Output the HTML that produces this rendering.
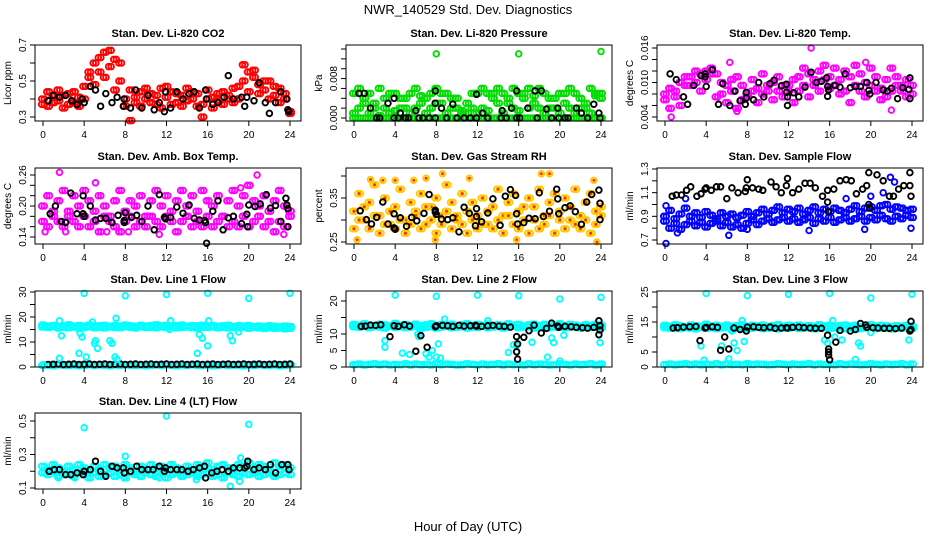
<!DOCTYPE html>
<html><head><meta charset="utf-8"><style>
html,body{margin:0;padding:0;background:#fff}
svg{display:block}
text{font-family:"Liberation Sans",sans-serif}
</style></head><body>
<svg id="chart" width="936" height="540" viewBox="0 0 936 540" xmlns="http://www.w3.org/2000/svg">
<text x="468" y="14" font-size="13" text-anchor="middle">NWR_140529  Std. Dev. Diagnostics</text>
<text x="468" y="531" font-size="13" text-anchor="middle">Hour of Day (UTC)</text>
</svg>
<script>
// ---- data (half-hour grid arrays: index i -> hour i/2) ----
const co2A=[0.40,0.44,0.38,0.45,0.42,0.37,0.44,0.41,0.47,0.52,0.60,0.55,0.66,0.58,0.62,0.50,0.40,0.45,0.38,0.44,0.40,0.43,0.37,0.46,0.41,0.44,0.38,0.42,0.46,0.40,0.43,0.37,0.45,0.41,0.39,0.44,0.42,0.46,0.40,0.50,0.55,0.52,0.48,0.45,0.50,0.42,0.46,0.40,0.33];
const co2B=[0.37,0.36,0.42,0.39,0.35,0.43,0.38,0.36,0.40,0.55,0.48,0.63,0.52,0.67,0.45,0.60,0.36,0.28,0.41,0.36,0.46,0.38,0.42,0.35,0.47,0.37,0.43,0.36,0.39,0.44,0.36,0.30,0.40,0.35,0.43,0.37,0.40,0.38,0.47,0.59,0.44,0.56,0.43,0.50,0.40,0.47,0.38,0.43,0.32];
const co2BlkH=[0.5,1,1.6,2.2,2.8,3.3,3.8,4,4.6,5.1,5.6,6.1,6.7,7.2,7.8,7.9,8.5,9,9.6,10.2,10.8,11.3,11.8,11.9,12.4,13,13.6,14.2,14.7,15.2,15.8,15.9,16.5,17,17.6,18,18.5,19.3,19.6,19.8,20.5,21,21.6,22,22.6,23.1,23.7,23.8,23.9];
const co2BlkV=[0.39,0.42,0.41,0.42,0.39,0.37,0.40,0.38,0.47,0.45,0.36,0.43,0.38,0.41,0.36,0.40,0.35,0.45,0.35,0.42,0.34,0.38,0.33,0.44,0.35,0.44,0.40,0.43,0.44,0.35,0.45,0.40,0.37,0.38,0.41,0.53,0.40,0.41,0.36,0.41,0.39,0.49,0.38,0.32,0.38,0.44,0.40,0.34,0.33];

const prA=[0.005,0.006,0.004,0.005,0.003,0.006,0.002,0.001,0.005,0.004,0.002,0.005,0.006,0.003,0.004,0.005,0.006,0.003,0.005,0.004,0.002,0.001,0.003,0.002,0.005,0.006,0.005,0.004,0.006,0.005,0.003,0.006,0.005,0.004,0.006,0.003,0.006,0.005,0.002,0.004,0.005,0.003,0.006,0.005,0.002,0.003,0.006,0.005,0.004];
const prB=[0.001,0.002,0.003,0.001,0.002,0.0005,0.004,0.005,0.0015,0.002,0.004,0.001,0.002,0.0045,0.001,0.002,0.003,0.005,0.001,0.002,0.004,0.0015,0.001,0.005,0.001,0.002,0.0015,0.005,0.003,0.001,0.004,0.002,0.0015,0.005,0.002,0.0045,0.002,0.001,0.004,0.002,0.001,0.005,0.002,0.001,0.004,0.002,0.001,0.0045,0.005];
const prZero=[0,0,0,0,0,0,0,0,0,0,0,0,0,0,0,0,0,0,0,0,0,0,0,0,0,0,0,0,0,0,0,0,0,0,0,0,0,0,0,0,0,0,0,0,0,0,0,0,0];
const prOutH=[8,16,24];
const prOutV=[0.013,0.013,0.0135];
const prBlkH=[2.2,2.5,3.9,4.3,5,5.3,6.3,6.7,7.3,7.9,9,10,10.7,11.3,11.9,13,14.3,14.8,15.8,16.1,17.8,19.2,19.9,20.5,20.8,22.7,23.9,0.5,1,1.6,3.3,3.9,4.5,6,7.9,7.9,8.5,9.6,11.9,12.5,14.4,15.3,15.8,16.9,17.6,18.2,18.7,19.8,21.6,22.1,23.3,23.8];
const prBlkV=[0,0,0,0,0,0,0,0,0,0,0,0,0,0,0,0,0,0,0,0,0,0,0,0,0,0,0,0.005,0.005,0.002,0.003,0.004,0.001,0.0015,0.0055,0.003,0.002,0.0028,0.0048,0.001,0.0015,0.002,0.0055,0.002,0.0055,0.0055,0.0018,0.002,0.002,0.001,0.0028,0.001];

const ltA=[0.008,0.009,0.0075,0.010,0.011,0.0095,0.012,0.0115,0.012,0.0125,0.0115,0.010,0.0095,0.0105,0.011,0.0095,0.008,0.0105,0.009,0.0115,0.0085,0.010,0.011,0.0095,0.0085,0.0105,0.011,0.0125,0.0115,0.0105,0.012,0.013,0.011,0.0125,0.0105,0.012,0.011,0.013,0.0115,0.010,0.0125,0.011,0.009,0.0105,0.0125,0.011,0.0095,0.0105,0.0095];
const ltB=[0.007,0.0055,0.0085,0.006,0.0095,0.011,0.010,0.0085,0.0105,0.0115,0.0075,0.008,0.0065,0.0085,0.0055,0.007,0.0075,0.0085,0.0065,0.008,0.0095,0.007,0.0085,0.0075,0.0095,0.0065,0.0085,0.0095,0.0075,0.0095,0.0085,0.0105,0.009,0.0095,0.008,0.0085,0.0065,0.0095,0.0085,0.0075,0.0095,0.0085,0.007,0.0075,0.0085,0.0095,0.0085,0.0075,0.008];
const ltOutH=[0.6,6.3,7,14.2,22,19.5];
const ltOutV=[0.004,0.0135,0.005,0.016,0.0052,0.0135];
const ltBlkH=[0.5,1.1,1.8,2.2,2.8,3.5,3.9,3.9,4.0,4.6,5.2,5.6,6.3,6.8,7.3,7.8,7.9,7.9,8.6,9.1,9.6,10.2,10.6,11.3,11.8,11.8,11.9,11.9,12.5,13,13.6,14.2,14.7,15.2,15.7,15.8,15.9,15.8,16.5,17,17.5,18,18.5,19,19.6,19.8,19.9,20.5,21.2,21.6,22,22.6,23.1,23.7,23.8,23.8];
const ltBlkV=[0.0115,0.0105,0.0075,0.0062,0.0095,0.0112,0.0115,0.011,0.0093,0.0122,0.0062,0.0098,0.0060,0.0085,0.0068,0.0062,0.0083,0.0073,0.0070,0.0100,0.0075,0.0098,0.0104,0.0094,0.0097,0.0083,0.0075,0.0060,0.0082,0.0075,0.0092,0.0118,0.0100,0.0102,0.0108,0.0093,0.0087,0.0076,0.0095,0.0092,0.0115,0.0091,0.0093,0.0093,0.0100,0.0086,0.0080,0.0100,0.0087,0.0085,0.0090,0.0072,0.0091,0.0088,0.0108,0.0072];

const abA=[0.20,0.22,0.18,0.21,0.23,0.19,0.22,0.20,0.23,0.21,0.19,0.22,0.20,0.18,0.21,0.23,0.19,0.21,0.20,0.22,0.18,0.21,0.23,0.20,0.22,0.19,0.21,0.23,0.20,0.22,0.19,0.23,0.21,0.20,0.22,0.18,0.21,0.23,0.20,0.22,0.24,0.21,0.20,0.22,0.19,0.21,0.23,0.20,0.19];
const abB=[0.17,0.16,0.19,0.17,0.16,0.18,0.17,0.16,0.18,0.16,0.17,0.15,0.18,0.17,0.16,0.15,0.17,0.18,0.16,0.17,0.16,0.18,0.17,0.16,0.18,0.17,0.15,0.17,0.18,0.16,0.17,0.16,0.18,0.16,0.17,0.18,0.16,0.17,0.16,0.18,0.16,0.17,0.18,0.16,0.17,0.15,0.17,0.16,0.18];
const abOutH=[0.2,1.6,2.2,5.1,6.2,8.3,11.3,19.2,20.8,23.4];
const abOutV=[0.15,0.265,0.15,0.245,0.15,0.15,0.145,0.235,0.26,0.145];
const abBlkH=[0.7,1.2,1.8,2.2,2.7,3.3,3.9,3.9,4.0,4.6,5.1,5.6,6.1,6.7,7.3,7.9,7.9,8.0,8.6,9.1,9.6,10.2,10.8,11.3,11.8,11.9,12.4,13,13.6,14.2,14.7,15.2,15.7,15.8,15.9,16.5,17,17.5,18,18.5,19.3,19.8,19.9,20.0,20.6,21.1,21.7,22.1,22.6,23.1,23.6,23.7,23.8,23.8];
const abBlkV=[0.185,0.20,0.17,0.168,0.225,0.185,0.22,0.185,0.18,0.20,0.173,0.176,0.176,0.168,0.182,0.168,0.172,0.187,0.178,0.182,0.17,0.20,0.154,0.222,0.178,0.175,0.178,0.198,0.186,0.202,0.176,0.173,0.172,0.168,0.128,0.190,0.210,0.154,0.177,0.180,0.166,0.184,0.160,0.202,0.199,0.204,0.222,0.196,0.201,0.170,0.215,0.202,0.195,0.160];

const rhA=[0.32,0.36,0.30,0.34,0.38,0.31,0.35,0.29,0.33,0.37,0.30,0.34,0.32,0.36,0.29,0.33,0.35,0.31,0.38,0.34,0.30,0.36,0.32,0.34,0.31,0.35,0.29,0.33,0.37,0.31,0.34,0.36,0.32,0.30,0.35,0.33,0.37,0.31,0.34,0.36,0.32,0.35,0.33,0.37,0.31,0.34,0.36,0.32,0.33];
const rhB=[0.28,0.30,0.33,0.28,0.31,0.27,0.29,0.32,0.28,0.30,0.27,0.29,0.31,0.28,0.33,0.30,0.27,0.29,0.32,0.28,0.31,0.29,0.27,0.30,0.28,0.29,0.32,0.28,0.30,0.27,0.31,0.29,0.28,0.33,0.27,0.30,0.28,0.29,0.31,0.27,0.30,0.28,0.30,0.29,0.28,0.30,0.27,0.29,0.31];
const rhOutH=[0.3,1.6,2.8,4,5.8,7,7.9,8.6,11.2,15.8,18.2,19.0,23.3,23.6];
const rhOutV=[0.255,0.392,0.39,0.39,0.39,0.395,0.255,0.405,0.395,0.255,0.405,0.405,0.39,0.25];
const rhBlkH=[0.6,1.2,1.7,2.2,2.8,3.3,3.9,3.9,4.0,4.5,5.1,5.6,6.1,6.8,7.3,7.9,7.9,8.0,8.5,9.1,9.6,10.2,10.7,11.2,11.8,11.9,11.9,12.4,13,13.5,14.2,14.7,15.2,15.7,15.8,15.9,16.5,17,17.6,18.0,18.4,19.0,19.7,19.8,19.9,20.5,21.0,21.5,22.1,22.6,23.1,23.8,23.9,23.9];
const rhBlkV=[0.321,0.301,0.291,0.306,0.341,0.291,0.314,0.282,0.279,0.305,0.286,0.306,0.298,0.315,0.358,0.322,0.318,0.313,0.302,0.301,0.305,0.273,0.329,0.315,0.287,0.326,0.308,0.296,0.316,0.348,0.288,0.354,0.369,0.356,0.314,0.291,0.294,0.304,0.303,0.362,0.308,0.320,0.370,0.348,0.314,0.328,0.332,0.319,0.290,0.341,0.358,0.368,0.301,0.338];

const sfA=[0.90,0.95,0.88,0.92,0.97,0.90,0.93,0.89,0.94,0.91,0.88,0.93,0.90,0.92,0.89,0.91,0.94,0.90,0.93,0.96,0.92,0.95,0.98,0.93,0.96,0.94,0.97,0.92,0.95,0.98,0.93,0.96,0.94,0.97,0.95,0.93,0.96,0.99,0.94,0.97,0.98,0.95,0.99,1.00,0.96,0.98,0.97,0.95,0.96];
const sfB=[0.86,0.80,0.84,0.79,0.83,0.86,0.82,0.85,0.81,0.84,0.86,0.82,0.85,0.81,0.83,0.80,0.84,0.87,0.83,0.86,0.88,0.85,0.87,0.89,0.86,0.88,0.85,0.87,0.89,0.84,0.88,0.86,0.89,0.85,0.87,0.89,0.86,0.88,0.90,0.86,0.89,0.87,0.91,0.88,0.86,0.90,0.88,0.91,0.89];
const sfOutH=[0.1,0.1,1.2,2.0,6.2,8.0,14.0,17.6,19.4,20.0,21.2,21.9,22.3,23.9];
const sfOutV=[0.67,0.99,0.76,1.05,0.74,0.79,0.78,1.05,0.79,1.07,1.10,1.23,1.19,0.80];
const sfBlkH=[0.7,1.1,1.6,2.1,2.5,3.1,3.5,3.9,4.0,4.5,5.0,5.4,6.0,6.5,7.1,7.8,7.9,8.0,8.5,9.1,9.5,10.3,10.8,11.3,11.8,11.9,12.4,13.0,13.6,14.1,14.6,15.3,15.8,15.8,15.9,16.4,17.0,17.6,18.1,18.6,19.2,19.6,19.8,19.8,19.9,20.6,21.2,21.8,22.2,22.7,23.2,23.8,23.8,23.9];
const sfBlkV=[1.07,1.08,1.08,1.12,1.15,1.07,1.09,1.13,1.14,1.12,1.15,1.15,1.05,1.14,1.10,1.11,1.14,1.21,1.14,1.13,1.12,1.19,1.15,1.10,1.16,1.22,1.10,1.13,1.18,1.18,1.14,1.07,1.12,1.02,0.94,1.13,1.20,1.21,1.20,1.09,1.13,1.16,1.27,1.00,0.97,1.25,1.20,1.07,1.07,1.13,1.16,1.27,1.16,1.07];

const l1A=[16.8,16.4,16.6,16.2,16.5,16.9,16.3,16.6,16.4,16.8,16.2,16.5,16.7,16.3,16.6,16.4,16.8,16.5,16.3,16.7,16.4,16.6,16.9,16.5,16.7,16.4,16.6,16.8,16.3,16.6,16.5,16.7,16.4,16.6,16.3,16.5,16.7,16.2,16.5,16.4,16.6,16.1,16.4,16.2,16.5,16.3,16.1,16.4,16.2];
const l1B=[16.0,15.8,16.1,15.6,15.9,15.7,16.0,15.5,15.8,16.1,15.7,15.9,15.6,16.0,15.8,15.7,16.1,15.9,15.6,16.0,15.8,15.9,15.7,16.0,15.8,16.1,15.7,15.9,16.0,15.8,15.6,15.9,15.8,16.0,15.7,15.9,15.6,15.8,15.7,15.9,15.5,15.8,15.6,15.4,15.7,15.5,15.6,15.3,15.5];
const l1Low=[0.6,0.8,0.5,0.9,0.7,0.6,0.8,0.5,0.7,0.9,0.6,0.8,0.7,0.5,0.8,0.6,0.9,0.7,0.6,0.8,0.5,0.7,0.9,0.6,0.8,0.7,0.5,0.8,0.6,0.9,0.7,0.6,0.8,0.5,0.7,0.9,0.6,0.8,0.7,0.5,0.8,0.6,0.9,0.7,0.6,0.8,0.5,0.7,0.9];
const l1Blk=[1.0,1.1,1.2,1.0,1.1,1.2,1.0,1.1,1.2,1.0,1.1,1.2,1.0,1.1,1.2,1.0,1.1,1.2,1.0,1.1,1.2,1.0,1.1,1.2,1.0,1.1,1.2,1.0,1.1,1.2,1.0,1.1,1.2,1.0,1.1,1.2,1.0,1.1,1.2,1.0,1.1,1.2,1.0,1.1,1.2,1.0,1.1,1.2];
const l1OutH=[4,8,12,16,20,24,1.6,1.8,1.6,2.5,3.5,3.6,3.8,4.2,4.8,5.1,5.0,5.3,6.5,6.7,7.0,7.2,7.1,12.3,12.4,15.0,15.2,15.5,16.0,16.1,18.2,18.4,19.0,0];
const l1OutV=[29.5,28.5,29,29.5,27.5,29.5,18.5,12.5,3.5,16,5.5,13.5,12,4,18,10.5,9.5,7.5,10.5,9.5,4,3,19.5,15,18.5,5.5,13,11.5,8.5,18.5,12.5,10.5,14,1];

const l2A=[12.9,12.6,13.1,12.7,12.4,13.0,12.8,12.5,13.2,12.7,12.9,12.6,13.0,12.5,12.8,13.1,12.6,12.9,12.7,13.0,12.5,12.8,13.1,12.6,12.9,12.7,13.0,12.5,12.8,12.6,13.1,12.7,12.9,12.4,12.8,13.0,12.6,12.9,12.5,12.8,13.1,12.6,12.9,12.7,12.4,12.8,12.6,12.9,12.7];
const l2B=[12.2,12.0,12.4,11.9,12.2,12.1,11.8,12.3,12.0,12.2,11.9,12.1,12.3,11.7,12.0,12.2,11.8,12.1,12.3,11.9,12.0,12.2,11.8,12.1,12.0,12.3,11.9,12.1,12.2,11.8,12.0,12.3,11.9,12.1,12.2,11.8,12.0,12.2,11.9,12.1,12.3,11.9,12.0,12.2,11.8,12.1,12.0,12.2,11.9];
const l2Low=[0.7,0.9,0.6,0.8,1.0,0.7,0.9,0.6,0.8,0.7,1.0,0.6,0.9,0.7,0.8,0.6,1.0,0.7,0.9,0.8,0.6,0.7,1.0,0.8,0.6,0.9,0.7,0.8,1.0,0.6,0.9,0.7,0.8,0.6,1.0,0.7,0.9,0.8,0.6,0.7,1.0,0.8,0.6,0.9,0.7,0.8,1.0,0.6,0.9];
const l2BlkH=[0.7,1.1,1.6,2.1,2.6,3.5,3.9,4.3,4.9,5.4,6.0,6.5,7.1,7.9,8.0,8.6,9.1,9.6,10.2,10.7,11.3,11.8,11.9,12.4,13.0,13.5,14.1,14.6,15.2,15.8,15.9,15.8,15.9,16.5,17,17.5,18.2,18.7,19.2,19.8,19.9,20.5,21.1,21.6,22.2,22.7,23.3,23.8,23.9,23.8,23.9];
const l2BlkV=[12.3,12.4,12.7,12.6,12.8,9.2,12.5,12.3,12.8,12.4,4.8,9.5,6.0,12.2,12.5,12.6,12.5,12.3,12.6,12.4,12.5,12.6,12.4,12.3,12.5,12.6,12.4,12.3,12.1,9.2,7.0,4.6,2.4,9.0,11.0,12.7,10.3,11.7,13.3,12.4,12.0,12.3,12.2,12.0,11.9,11.8,12.0,9.8,11.2,14.0,12.5];
const l2OutH=[4,8,12,16,20,24,3.0,3.0,4.7,5.4,6.2,6.3,7.0,7.3,7.6,8.0,8.2,8.4,8.8,13.0,15.0,15.5,15.8,17.3,18.8,19.2,19.4,20.0,20.4,23.9];
const l2OutV=[21.8,21.4,21.8,21.6,20.6,21.1,8,6,4.2,3.8,10,9.2,4,3,5,3,7,2.7,14.5,14,4.4,6.7,6.6,7.5,3,8.8,7.4,1.8,9.6,7.4];

const l3A=[13.9,13.5,14.1,13.7,13.4,14.0,13.8,13.5,14.3,13.7,13.9,13.6,14.0,13.5,13.8,14.1,13.6,13.9,13.7,14.0,13.5,13.8,14.1,13.6,13.9,13.7,14.0,13.5,13.8,13.6,14.1,13.7,13.9,13.4,13.8,14.0,13.6,13.9,13.5,13.8,14.1,13.6,13.9,13.7,13.4,13.8,13.6,13.9,13.7];
const l3B=[13.1,12.9,13.2,12.8,13.1,13.0,12.7,13.2,12.9,13.1,12.8,13.0,13.2,12.6,12.9,13.1,12.7,13.0,13.2,12.8,12.9,13.1,12.7,13.0,12.9,13.2,12.8,13.0,13.1,12.7,12.9,13.2,12.8,13.0,13.1,12.7,12.9,13.1,12.8,13.0,13.2,12.8,12.9,13.1,12.7,13.0,12.9,13.1,12.8];
const l3Low=[0.8,1.0,0.7,0.9,1.1,0.8,1.0,0.7,0.9,0.8,1.1,0.7,1.0,0.8,0.9,0.7,1.1,0.8,1.0,0.9,0.7,0.8,1.1,0.9,0.7,1.0,0.8,0.9,1.1,0.7,1.0,0.8,0.9,0.7,1.1,0.8,1.0,0.9,0.7,0.8,1.1,0.9,0.7,1.0,0.8,0.9,1.1,0.7,1.0];
const l3BlkH=[0.8,1.2,1.8,2.4,3.0,3.4,3.9,4.0,4.6,5.1,5.4,5.8,6.2,6.7,7.3,7.9,8.0,8.6,9.1,9.6,10.2,10.7,11.3,11.8,11.9,12.4,13.0,13.5,14.1,14.6,15.2,15.8,15.9,15.9,15.9,16.0,16.6,17.0,18.0,18.5,19.0,19.5,19.6,20.2,20.7,21.3,21.8,22.4,23.0,23.8,23.9,23.9];
const l3BlkV=[13.0,13.1,13.3,13.4,13.5,8.8,13.0,13.2,13.4,13.2,5.6,10.0,6.0,13.0,12.5,12.0,13.3,13.4,13.2,13.1,13.3,12.9,13.0,13.1,13.0,13.2,13.3,13.1,13.0,12.9,12.9,10.6,6.0,5.0,4.0,2.4,8.3,12.2,12.0,12.5,14.5,14.0,13.2,13.1,13.0,12.9,12.9,12.8,13.0,12.0,15.2,12.5];
const l3OutH=[4,8,12,16,20,24,3.5,3.8,5.5,6.2,6.5,6.7,7.5,7.0,7.7,15.5,15.8,16.3,16.5,17.2,18.5,18.8,19.0,20.0,23.7];
const l3OutV=[24.5,23.8,24.2,24.5,23.0,24.2,7,2.3,7,2.7,12,8,15.5,5.5,8.5,9,8,15.5,10,9,2.5,8,7,11.5,9];

const l4A=[0.23,0.21,0.24,0.22,0.20,0.23,0.21,0.24,0.22,0.20,0.23,0.21,0.24,0.22,0.23,0.21,0.24,0.22,0.20,0.23,0.21,0.24,0.22,0.23,0.21,0.24,0.22,0.20,0.23,0.21,0.24,0.22,0.25,0.21,0.23,0.24,0.22,0.21,0.24,0.23,0.25,0.22,0.24,0.23,0.21,0.25,0.23,0.24,0.22];
const l4B=[0.19,0.18,0.20,0.17,0.19,0.18,0.17,0.19,0.18,0.16,0.19,0.17,0.18,0.19,0.17,0.18,0.16,0.19,0.18,0.17,0.19,0.18,0.17,0.19,0.16,0.18,0.19,0.17,0.18,0.19,0.17,0.18,0.19,0.17,0.18,0.16,0.19,0.18,0.17,0.19,0.18,0.19,0.17,0.18,0.19,0.17,0.18,0.19,0.18];
const l4OutH=[4,12,20,8,18.2,19.2,19.1,1.5,3.1,7.9,11.3,14.9];
const l4OutV=[0.46,0.53,0.48,0.29,0.11,0.28,0.14,0.16,0.16,0.16,0.16,0.15];
const l4BlkH=[0.6,1.1,1.6,2.2,2.7,3.3,3.9,4.0,4.6,5.1,5.6,6.1,6.7,7.2,7.8,7.9,8.5,9.1,9.6,10.2,10.7,11.3,11.8,11.9,12.4,13,13.5,14.1,14.6,15.2,15.7,15.8,16.4,16.9,17.4,18,18.5,19.1,19.6,19.8,19.9,20.5,21,21.6,22.1,22.6,23.2,23.8,23.9];
const l4BlkV=[0.20,0.21,0.21,0.18,0.18,0.19,0.18,0.20,0.21,0.26,0.20,0.17,0.23,0.22,0.22,0.19,0.20,0.23,0.21,0.21,0.21,0.23,0.20,0.22,0.21,0.21,0.21,0.20,0.21,0.22,0.23,0.16,0.19,0.20,0.21,0.20,0.22,0.22,0.22,0.23,0.26,0.21,0.22,0.21,0.24,0.19,0.24,0.24,0.21];

// ---- rendering ----
const NS='http://www.w3.org/2000/svg';
const svg=document.getElementById('chart');
function mk(tag,attrs,parent){const e=document.createElementNS(NS,tag);for(const k in attrs)e.setAttribute(k,attrs[k]);(parent||svg).appendChild(e);return e;}
function half(arr){return arr.map((v,i)=>i*0.5);}
const COLS=[35,346,657], ROWS=[45,168,291,413], W=266, H=76;
const panels=[
 {id:'co2',c:0,r:0,title:'Stan. Dev. Li-820 CO2',ylab:'Licor ppm',y0:0.3,p0:117,y1:0.7,p1:45,ticks:[0.3,0.4,0.5,0.6,0.7],labels:['0.3','','0.5','','0.7'],
  series:[{h:half(co2A),v:co2A,col:'#ff0000',band:1},{h:half(co2B),v:co2B,col:'#ff0000',band:1},{h:co2BlkH,v:co2BlkV,col:'#000'}]},
 {id:'pressure',c:1,r:0,title:'Stan. Dev. Li-820 Pressure',ylab:'kPa',y0:0,p0:118,y1:0.014,p1:49,ticks:[0,0.002,0.004,0.006,0.008,0.010,0.012,0.014],labels:['0.000','','','','0.008','','',''],
  series:[{h:half(prZero),v:prZero,col:'#00dd00',band:1},{h:half(prA),v:prA,col:'#00dd00',band:1},{h:half(prB),v:prB,col:'#00dd00',band:1},{h:prOutH,v:prOutV,col:'#00dd00'},{h:prBlkH,v:prBlkV,col:'#000'}]},
 {id:'li-temp',c:2,r:0,title:'Stan. Dev. Li-820 Temp.',ylab:'degrees C',y0:0.004,p0:117,y1:0.016,p1:48,ticks:[0.004,0.006,0.008,0.010,0.012,0.014,0.016],labels:['0.004','','','0.010','','','0.016'],
  series:[{h:half(ltA),v:ltA,col:'#ff00ff',band:1},{h:half(ltB),v:ltB,col:'#ff00ff',band:1},{h:ltOutH,v:ltOutV,col:'#ff00ff'},{h:ltBlkH,v:ltBlkV,col:'#000'}]},
 {id:'amb-box-temp',c:0,r:1,title:'Stan. Dev. Amb. Box Temp.',ylab:'degrees C',y0:0.14,p0:237,y1:0.26,p1:175,ticks:[0.14,0.16,0.18,0.20,0.22,0.24,0.26],labels:['0.14','','','0.20','','','0.26'],
  series:[{h:half(abA),v:abA,col:'#ff00ff',band:1},{h:half(abB),v:abB,col:'#ff00ff',band:1},{h:abOutH,v:abOutV,col:'#ff00ff'},{h:abBlkH,v:abBlkV,col:'#000'}]},
 {id:'gas-rh',c:1,r:1,title:'Stan. Dev. Gas Stream RH',ylab:'percent',y0:0.25,p0:242,y1:0.40,p1:176,ticks:[0.25,0.30,0.35,0.40],labels:['0.25','','0.35',''],
  series:[{h:half(rhA),v:rhA,col:'#ffc800',dot:'#ff3000',band:1},{h:half(rhB),v:rhB,col:'#ffc800',dot:'#ff3000',band:1},{h:rhOutH,v:rhOutV,col:'#ffc800',dot:'#ff3000'},{h:rhBlkH,v:rhBlkV,col:'#000'}]},
 {id:'sample-flow',c:2,r:1,title:'Stan. Dev. Sample Flow',ylab:'ml/min',y0:0.7,p0:240,y1:1.3,p1:169,ticks:[0.7,0.8,0.9,1.0,1.1,1.2,1.3],labels:['0.7','','0.9','','1.1','','1.3'],
  series:[{h:half(sfA),v:sfA,col:'#0000ff',band:1},{h:half(sfB),v:sfB,col:'#0000ff',band:1},{h:sfOutH,v:sfOutV,col:'#0000ff'},{h:sfBlkH,v:sfBlkV,col:'#000'}]},
 {id:'line1-flow',c:0,r:2,title:'Stan. Dev. Line 1 Flow',ylab:'ml/min',y0:0,p0:367,y1:30,p1:292,ticks:[0,5,10,15,20,25,30],labels:['0','','10','','20','','30'],
  series:[{h:half(l1A),v:l1A,col:'#00ffff',band:1},{h:half(l1B),v:l1B,col:'#00ffff',band:1},{h:half(l1Low),v:l1Low,col:'#00ffff',band:1},{h:l1Blk.map((v,i)=>i*0.5+0.5),v:l1Blk,col:'#000'},{h:l1OutH,v:l1OutV,col:'#00ffff'}]},
 {id:'line2-flow',c:1,r:2,title:'Stan. Dev. Line 2 Flow',ylab:'ml/min',y0:0,p0:367,y1:20,p1:301,ticks:[0,5,10,15,20],labels:['0','5','10','','20'],
  series:[{h:half(l2A),v:l2A,col:'#00ffff',band:1},{h:half(l2B),v:l2B,col:'#00ffff',band:1},{h:half(l2Low),v:l2Low,col:'#00ffff',band:1},{h:l2OutH,v:l2OutV,col:'#00ffff'},{h:l2BlkH,v:l2BlkV,col:'#000'}]},
 {id:'line3-flow',c:2,r:2,title:'Stan. Dev. Line 3 Flow',ylab:'ml/min',y0:0,p0:367,y1:25,p1:292,ticks:[0,5,10,15,20,25],labels:['0','5','','15','','25'],
  series:[{h:half(l3A),v:l3A,col:'#00ffff',band:1},{h:half(l3B),v:l3B,col:'#00ffff',band:1},{h:half(l3Low),v:l3Low,col:'#00ffff',band:1},{h:l3OutH,v:l3OutV,col:'#00ffff'},{h:l3BlkH,v:l3BlkV,col:'#000'}]},
 {id:'line4-flow',c:0,r:3,title:'Stan. Dev. Line 4 (LT) Flow',ylab:'ml/min',y0:0.1,p0:488,y1:0.5,p1:421,ticks:[0.1,0.2,0.3,0.4,0.5],labels:['0.1','','0.3','','0.5'],
  series:[{h:half(l4A),v:l4A,col:'#00ffff',band:1},{h:half(l4B),v:l4B,col:'#00ffff',band:1},{h:l4OutH,v:l4OutV,col:'#00ffff'},{h:l4BlkH,v:l4BlkV,col:'#000'}]}
];
const xTicks=[0,4,8,12,16,20,24];
panels.forEach(p=>{
  const L=COLS[p.c], T=ROWS[p.r];
  const x=h=>L+8+h*(W-19)/24;
  const y=v=>p.p0+(v-p.y0)*(p.p1-p.p0)/(p.y1-p.y0);
  const g=mk('g',{});
  
  
  const t=mk('text',{x:L+W/2,y:T-8,'font-size':11,'font-weight':'bold','text-anchor':'middle'},g);
  t.textContent=p.title;
  
  
  const pts=mk('g',{},g);
  
  
  p.series.forEach(s=>{
    s.v.forEach((v,i)=>{
      const cx=x(s.h[i]), cy=y(v);
      // dense bands: draw a marker plus a thickened duplicate (rendering only)
      const offs=s.band?[-1.3,1.3]:[0];
      offs.forEach(o=>{
        const c=mk('circle',{cx:(cx+o).toFixed(1),cy:cy.toFixed(1),r:2.8,fill:'none',stroke:s.col,'stroke-width':1.9},pts);
        
        
      });
      if(s.dot){const d=mk('circle',{cx:cx.toFixed(1),cy:cy.toFixed(1),r:1.5,fill:s.dot},pts);
        
        }
    });
  });
  const box=mk('rect',{x:L,y:T,width:W,height:H,fill:'none',stroke:'#000','stroke-width':1},g);
  
  
  const B=T+H;
  mk('line',{x1:x(0),x2:x(24),y1:B,y2:B,stroke:'#000'},g);
  xTicks.forEach(h=>{
    mk('line',{x1:x(h),x2:x(h),y1:B,y2:B+5,stroke:'#000'},g);
    const tl=mk('text',{x:x(h),y:B+17,'font-size':10,'text-anchor':'middle'},g);
    tl.textContent=h;
    
    
  });
  p.ticks.forEach((tv,i)=>{
    const yy=y(tv);
    mk('line',{x1:L-5,x2:L,y1:yy,y2:yy,stroke:'#000'},g);
    if(p.labels[i]){
      const tl=mk('text',{x:0,y:0,'font-size':10,'text-anchor':'middle',transform:`translate(${L-9},${yy}) rotate(-90)`},g);
      tl.textContent=p.labels[i];
      
      
    }
  });
  const yl=mk('text',{x:0,y:0,'font-size':10,'text-anchor':'middle',transform:`translate(${L-24},${T+H/2}) rotate(-90)`},g);
  yl.textContent=p.ylab;
  
  
});
</script>
</body></html>
